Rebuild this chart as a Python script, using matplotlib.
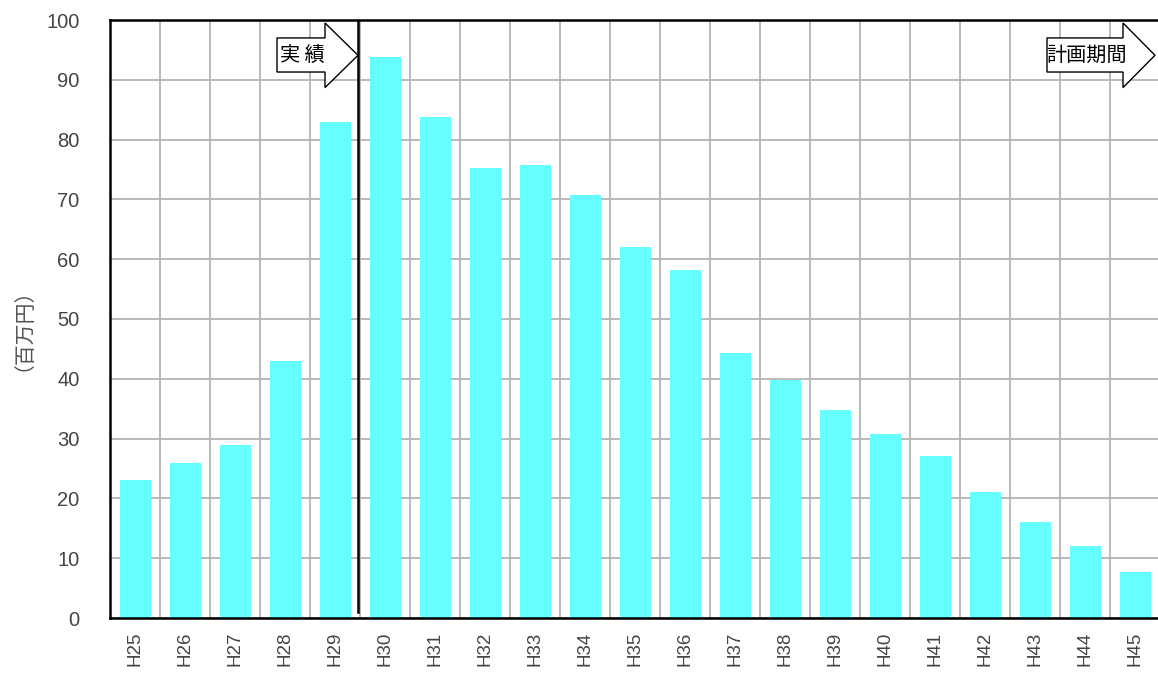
import numpy as np
import matplotlib
matplotlib.use("Agg")
import matplotlib.pyplot as plt
from matplotlib.patches import Polygon

plt.rcParams['font.family'] = ['Liberation Sans', 'Noto Sans CJK JP', 'DejaVu Sans']

# データ（百万円）
years = ["H25", "H26", "H27", "H28", "H29", "H30", "H31", "H32", "H33", "H34", "H35",
         "H36", "H37", "H38", "H39", "H40", "H41", "H42", "H43", "H44", "H45"]
values = [23, 26, 29, 43, 83, 93.8, 83.8, 75.3, 75.8, 70.7, 62,
          58.2, 44.3, 39.8, 34.8, 30.8, 27.1, 21.1, 16.0, 12.0, 7.7]
actual_label = "実 績"
plan_label = "計画期間"
ylabel = "（百万円）"

W, H = 1158, 675
fig = plt.figure(figsize=(W / 100, H / 100), dpi=100)
ax = fig.add_axes([110 / W, (H - 618) / H, 1050 / W, 598 / H])

x = np.arange(len(years))
ax.bar(x, values, width=0.62, color="#66ffff", zorder=2)

ax.set_xlim(-0.5, len(years) - 0.5)
ax.set_ylim(0, 100)
ax.set_yticks(np.arange(0, 101, 10))
ax.set_xticks(x)
ax.set_xticklabels(years, rotation=90, fontsize=13.5, color="#444444")
ax.set_xticks(x[:-1] + 0.5, minor=True)
ax.tick_params(axis="y", length=0, pad=22, labelsize=14.5, labelcolor="#444444")
ax.tick_params(axis="x", which="both", length=0, pad=10)

# グリッド
ax.grid(axis="y", color="#b4b4b4", linewidth=1.3, zorder=1)
ax.grid(axis="x", which="minor", color="#b4b4b4", linewidth=1.3, zorder=1)
ax.set_axisbelow(True)

for s in ["left", "bottom", "top"]:
    ax.spines[s].set_linewidth(1.8)
    ax.spines[s].set_color("black")
ax.spines["right"].set_visible(False)

ax.set_ylabel(ylabel, fontsize=15, color="#555555",
              family=['Noto Sans CJK JP', 'DejaVu Sans'])
ax.yaxis.set_label_coords(-0.082, 0.5)

# 実績と計画の区切り線
ax.plot([4.46, 4.46], [1.0, 100], color="black", linewidth=1.8, zorder=4)


def arrow(x0, xb, xt, text):
    pts = [(x0, 91.3), (xb, 91.3), (xb, 88.7), (xt, 94.1),
           (xb, 99.5), (xb, 97.0), (x0, 97.0)]
    ax.add_patch(Polygon(pts, closed=True, facecolor="white", edgecolor="black",
                         linewidth=1.0, zorder=5, clip_on=False))
    ax.text((x0 + xb) / 2 + 0.03, 94.15, text, ha="center", va="center",
            fontsize=14.5, zorder=6, family=['Noto Sans CJK JP', 'DejaVu Sans'])


arrow(2.84, 3.8, 4.46, actual_label)
arrow(18.24, 19.76, 20.4, plan_label)

fig.savefig("out.png", dpi=100)
